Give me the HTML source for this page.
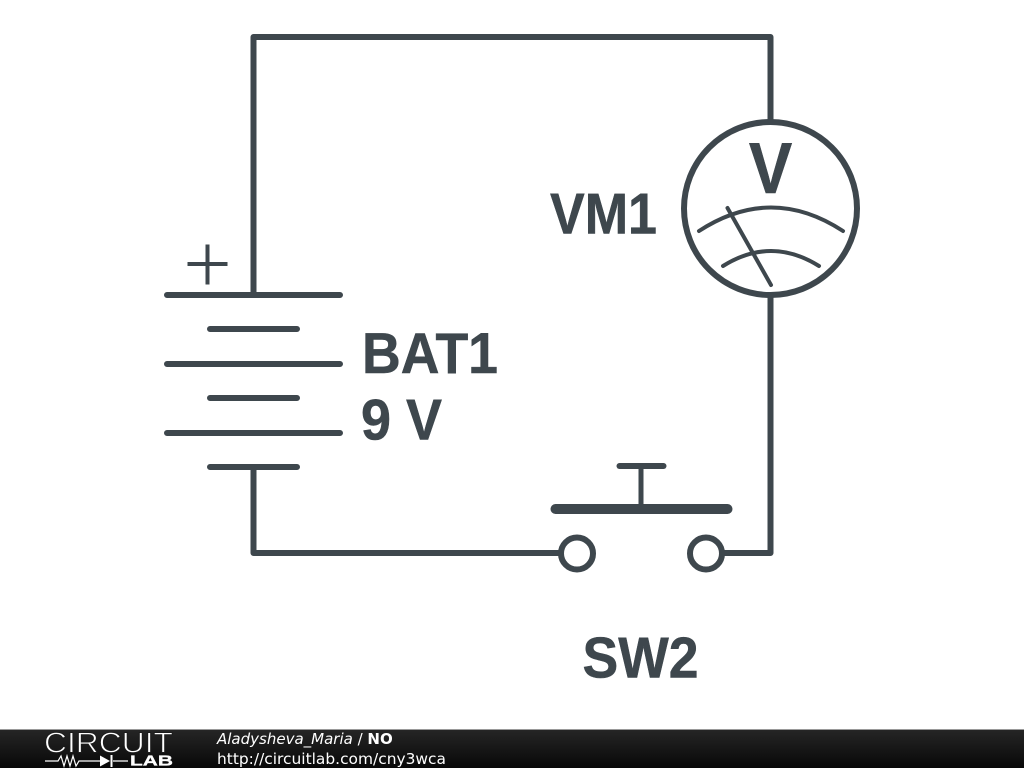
<!DOCTYPE html>
<html><head><meta charset="utf-8">
<style>
html,body{margin:0;padding:0;background:#fff;width:1024px;height:768px;overflow:hidden}
svg{display:block}
</style></head><body>
<svg width="1024" height="768" viewBox="0 0 1024 768" xmlns="http://www.w3.org/2000/svg">
<defs><linearGradient id="g" x1="0" y1="0" x2="0" y2="1"><stop offset="0" stop-color="#262626"/><stop offset="1" stop-color="#080808"/></linearGradient></defs>
<rect width="1024" height="768" fill="#fff"/>
<g fill="none" stroke="#3e474d" stroke-linecap="round" stroke-linejoin="round">
<g stroke-width="6">
<path d="M253.500 295V37H770.500V122"/>
<path d="M770.500 296V553H723"/>
<path d="M253.500 467V553H561"/>
<circle cx="770.500" cy="208.500" r="86.500"/>
<path d="M167 295H340M167 364H340M167 433H340"/>
<path d="M210 329H297M210 398H297M210 467H297"/>
<circle cx="577" cy="553.500" r="16"/>
<circle cx="706" cy="553.500" r="16"/>
<path d="M619.500 466H663.500"/>
</g>
<path d="M187.500 264H227.500M207.500 244.500V284.500" stroke-width="4" stroke-linecap="butt"/>
<path d="M555.500 509H727.500" stroke-width="10"/>
<path d="M641 466V509" stroke-width="5"/>
<g stroke-width="4">
<path d="M699 231Q771 184 843 231"/>
<path d="M723 266Q771 236 819 266"/>
<path d="M727.500 208L771 285"/>
</g>
</g>
<g font-family="'Liberation Sans',sans-serif" font-weight="700" fill="#3e474d" stroke="#3e474d" stroke-width="0.5" font-size="54">
<text transform="translate(362 373) scale(1 1.07)" textLength="136" lengthAdjust="spacingAndGlyphs">BAT1</text>
<text transform="translate(361 439.500) scale(1 1.07)" textLength="81" lengthAdjust="spacingAndGlyphs">9 V</text>
<text transform="translate(550 233.500) scale(1 1.07)" textLength="107" lengthAdjust="spacingAndGlyphs">VM1</text>
<text transform="translate(582.500 677.500) scale(1 1.07)" textLength="116" lengthAdjust="spacingAndGlyphs">SW2</text>
<text transform="translate(770.500 193) scale(1 1.12)" text-anchor="middle" font-size="65">V</text>
</g>
<rect y="729" width="1024" height="39" fill="url(#g)"/>
<rect y="729" width="1024" height="1" fill="#999"/>
<text x="44" y="752.500" font-family="'Liberation Sans',sans-serif" font-size="29" textLength="129" lengthAdjust="spacingAndGlyphs" fill="#fff" stroke="#1c1c1c" stroke-width="0.9">CIRCUIT</text>
<path d="M45 761H58L61 756L64 766L67 756L70 766L73 756L76 766L79 761H100M113 761H128" fill="none" stroke="#fff" stroke-width="1.200"/>
<path d="M100 755.500L110 761L100 766.500Z" fill="#fff"/>
<path d="M111.500 755V767" stroke="#fff" stroke-width="2"/>
<text x="130" y="765.500" font-family="'Liberation Sans',sans-serif" font-weight="700" font-size="15" textLength="43" lengthAdjust="spacingAndGlyphs" fill="#fff" stroke="#fff" stroke-width="0.3">LAB</text>
<g font-family="'DejaVu Sans',sans-serif" fill="#fff">
<text x="217" y="744" font-size="15"><tspan font-style="italic">Aladysheva_Maria</tspan> / <tspan font-weight="700">NO</tspan></text>
<text x="217" y="764" font-size="15" textLength="229" lengthAdjust="spacingAndGlyphs">http://circuitlab.com/cny3wca</text>
</g>
</svg>
</body></html>
